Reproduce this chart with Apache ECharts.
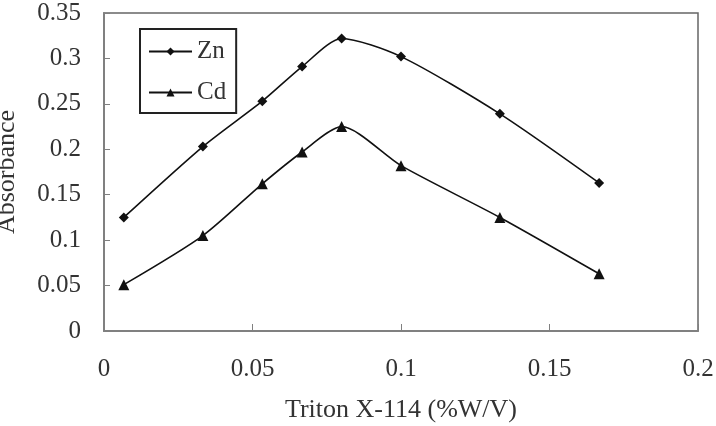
<!DOCTYPE html>
<html>
<head>
<meta charset="utf-8">
<script src="https://cdn.jsdelivr.net/npm/echarts@6/dist/echarts.min.js"></script>
<style>html,body{margin:0;padding:0;background:#fff}#c{width:716px;height:426px}</style>
</head>
<body>
<div id="c"></div>
<script>
var xValues = [0.00667, 0.0333, 0.0533, 0.0667, 0.08, 0.1, 0.1333, 0.1667];
var znValues = [0.125, 0.203, 0.253, 0.291, 0.322, 0.302, 0.239, 0.163];
var cdValues = [0.051, 0.105, 0.162, 0.197, 0.225, 0.182, 0.125, 0.063];
var seriesNames = ['Zn', 'Cd'];
var xTitle = 'Triton X-114 (%W/V)';
var yTitle = 'Absorbance';

var font = 'Liberation Serif';
var chart = echarts.init(document.getElementById('c'));
function pairs(ys) { return xValues.map(function (x, i) { return [x, ys[i]]; }); }
chart.setOption({
  animation: false,
  backgroundColor: '#fff',
  grid: { left: 104, right: 18, top: 13, bottom: 95, show: true, borderColor: '#666', borderWidth: 1.5,
          backgroundColor: 'transparent', outerBoundsMode: 'none', containLabel: false },
  legend: {
    orient: 'vertical', left: 140, top: 29,
    padding: [10, 10, 8, 8],
    borderColor: '#222', borderWidth: 2,
    itemWidth: 43, itemHeight: 10, itemGap: 16,
    textStyle: { fontFamily: font, fontSize: 25, color: '#333' },
    data: seriesNames
  },
  xAxis: {
    type: 'value', min: 0, max: 0.2, interval: 0.05,
    name: xTitle, nameLocation: 'middle', nameGap: 66,
    nameTextStyle: { fontFamily: font, fontSize: 26, color: '#333' },
    axisLine: { show: true, lineStyle: { color: '#808080', width: 2 } },
    axisTick: { show: true, inside: true, length: 7, lineStyle: { color: '#808080' } },
    axisLabel: { fontFamily: font, fontSize: 25, color: '#333', margin: 26, formatter: function (v) { return String(+v.toFixed(2)); } },
    splitLine: { show: false }
  },
  yAxis: {
    type: 'value', min: 0, max: 0.35, interval: 0.05,
    name: yTitle, nameLocation: 'middle', nameGap: 84, nameRotate: 90,
    nameTextStyle: { fontFamily: font, fontSize: 26, color: '#333' },
    axisLine: { show: true, lineStyle: { color: '#808080', width: 2 } },
    axisTick: { show: true, inside: true, length: 6, lineStyle: { color: '#808080' } },
    axisLabel: { fontFamily: font, fontSize: 25, color: '#333', margin: 23, formatter: function (v) { return String(+v.toFixed(2)); } },
    splitLine: { show: false }
  },
  series: [
    { name: seriesNames[0], type: 'line', data: pairs(znValues), smooth: 0.25, symbol: 'diamond', symbolSize: 10,
      lineStyle: { color: '#111', width: 1.6 }, itemStyle: { color: '#111' } },
    { name: seriesNames[1], type: 'line', data: pairs(cdValues), smooth: 0.25, symbol: 'triangle', symbolSize: 11,
      lineStyle: { color: '#111', width: 1.6 }, itemStyle: { color: '#111' } }
  ]
});
</script>
</body>
</html>
